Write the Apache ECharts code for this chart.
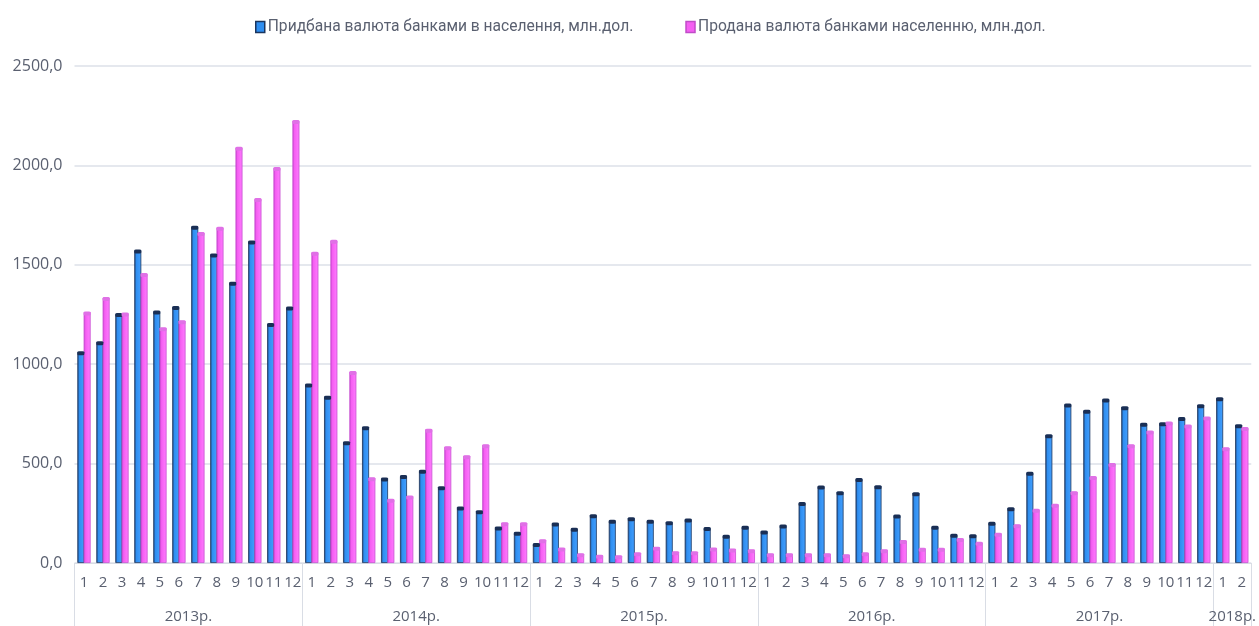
<!DOCTYPE html>
<html>
<head>
<meta charset="utf-8">
<script src="https://cdn.jsdelivr.net/npm/echarts@6/dist/echarts.min.js"></script>
<style>
html,body{margin:0;padding:0;background:#fff;}
#chart{width:1259px;height:626px;}
</style>
</head>
<body>
<div id="chart"></div>
<script>
// ---- data ----
const months = ['1','2','3','4','5','6','7','8','9','10','11','12'];
const years = ['2013р.','2014р.','2015р.','2016р.','2017р.','2018р.'];
const monthsPerYear = [12,12,12,12,12,2];
const seriesNames = ['Придбана валюта банками в населення, млн.дол.','Продана валюта банками населенню, млн.дол.'];

const bought2013 = [1060,1110,1252,1572,1265,1288,1692,1552,1410,1617,1202,1285];
const bought2014 = [898,836,607,683,425,437,464,381,279,260,179,152];
const bought2015 = [95,199,172,240,212,225,212,205,219,176,137,182];
const bought2016 = [159,189,302,385,356,423,386,239,351,182,142,139];
const bought2017 = [202,275,454,643,797,766,822,784,700,703,729,794];
const bought2018 = [829,693];

const sold2013 = [1262,1335,1256,1455,1182,1218,1662,1688,2090,1832,1988,2225];
const sold2014 = [1562,1622,962,428,320,336,672,584,539,594,202,201];
const sold2015 = [116,75,46,38,36,50,78,56,55,75,70,66];
const sold2016 = [46,46,46,46,41,50,66,112,73,73,122,103];
const sold2017 = [149,192,269,295,358,434,500,594,663,708,693,733];
const sold2018 = [579,680];

const yTicks = {min:0, max:2500, interval:500};

// ---- build ----
const categories = [];
monthsPerYear.forEach(n => { for (let i=0;i<n;i++) categories.push(months[i]); });
const bought = [].concat(bought2013,bought2014,bought2015,bought2016,bought2017,bought2018);
const sold = [].concat(sold2013,sold2014,sold2015,sold2016,sold2017,sold2018);

const boundaries = [0];
const yearCenters = [];
monthsPerYear.forEach(n => { const s = boundaries[boundaries.length-1]; yearCenters.push(s + n/2); boundaries.push(s+n); });
const total = categories.length;

const txt = '#5a6070';
const font = 'Open Sans';

const chart = echarts.init(document.getElementById('chart'));
const barW = 7;
const gapPct = -10;
const off = (barW + barW*gapPct/100)/2;

chart.setOption({
  animation:false,
  legend:{
    data:[
      {name:seriesNames[0], itemStyle:{color:'#2f8ef0', borderColor:'#1b355e', borderWidth:1.5}},
      {name:seriesNames[1], itemStyle:{color:'#f55ff2', borderColor:'#c04cc8', borderWidth:1.5}}
    ],
    top:14, left:250, itemWidth:9, itemHeight:11, itemGap:52,
    icon:'rect',
    textStyle:{color:txt, fontFamily:'Roboto', fontSize:15.6, padding:[0,0,0,-2]}
  },
  grid:{left:74.5, right:4, top:66, bottom:63, containLabel:false},
  xAxis:[
    {
      type:'category', data:categories, position:'bottom',
      axisLine:{show:true, lineStyle:{color:'#d9dde5', width:1}},
      axisTick:{show:false},
      axisLabel:{interval:0, color:txt, fontFamily:font, fontSize:15, margin:12}
    },
    {
      type:'value', min:0, max:total, position:'bottom',
      axisLine:{show:false},
      splitLine:{show:false},
      axisTick:{show:true, customValues:boundaries, length:63, lineStyle:{color:'#d9dde5', width:1}},
      axisLabel:{show:true, customValues:yearCenters, color:txt, fontFamily:font, fontSize:15, margin:46,
        formatter:function(v){ const i = yearCenters.indexOf(v); return i>=0 ? years[i] : ''; }}
    }
  ],
  yAxis:{
    type:'value', min:yTicks.min, max:yTicks.max, interval:yTicks.interval,
    axisLine:{show:false}, axisTick:{show:false},
    axisLabel:{color:txt, fontFamily:font, fontSize:16, margin:12,
      formatter:function(v){ return v.toFixed(1).replace('.',','); }},
    splitLine:{lineStyle:{color:'#dde1e8', width:1.5}}
  },
  series:[
    {
      name:seriesNames[0], type:'bar', data:bought, barWidth:barW, barGap:gapPct+'%',
      itemStyle:{
        color:new echarts.graphic.LinearGradient(0,0,1,0,[
          {offset:0,color:'#1d3f73'},{offset:0.3,color:'#2f8ef0'},{offset:1,color:'#44a0ff'}]),
        borderColor:'#1b355e', borderWidth:0.8
      }
    },
    {
      name:seriesNames[1], type:'bar', data:sold, barWidth:barW,
      itemStyle:{
        color:new echarts.graphic.LinearGradient(0,0,1,0,[
          {offset:0,color:'#c83fcf'},{offset:0.3,color:'#f55ff2'},{offset:1,color:'#ff7cff'}]),
        borderColor:'#c64fd0', borderWidth:0.8
      }
    },
    {
      name:'capB', type:'pictorialBar', data:bought, symbol:'roundRect', symbolSize:[barW,4],
      symbolPosition:'end', symbolOffset:[-off,-1], z:5, silent:true,
      itemStyle:{color:'#1a2f55'}
    },
    {
      name:'capS', type:'pictorialBar', data:sold, symbol:'roundRect', symbolSize:[barW,4],
      symbolPosition:'end', symbolOffset:[off,-1], z:5, silent:true,
      itemStyle:{color:'#e070e6', borderColor:'#c64fd0', borderWidth:0.8}
    }
  ]
});
</script>
</body>
</html>
